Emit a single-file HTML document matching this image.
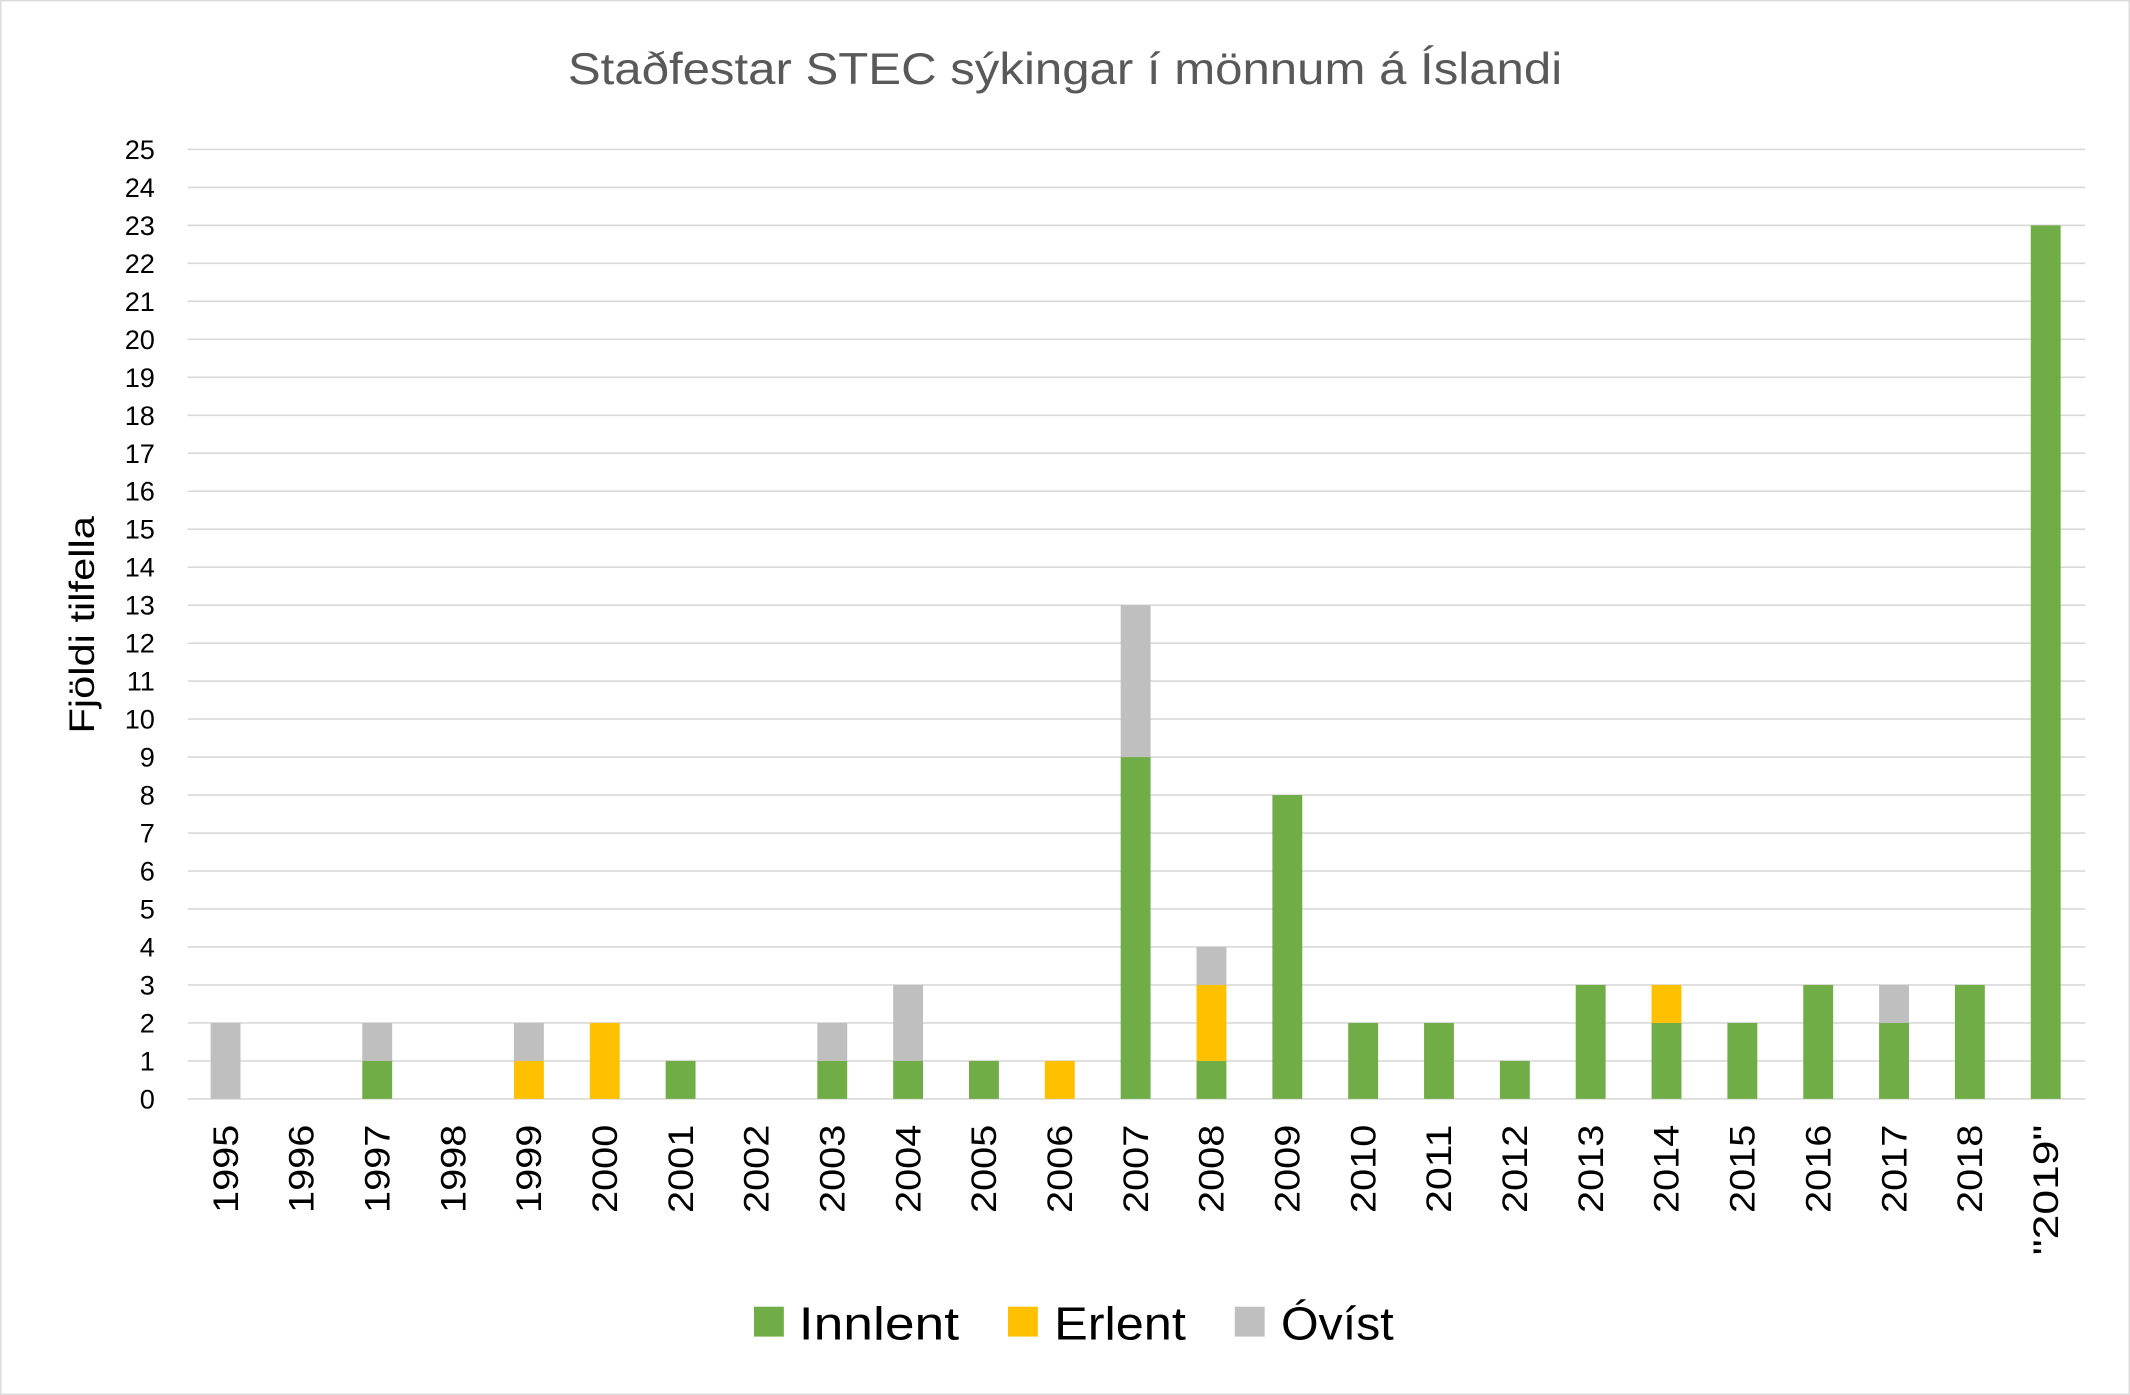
<!DOCTYPE html>
<html><head><meta charset="utf-8"><style>html,body{margin:0;padding:0;background:#fff}svg{display:block}</style></head>
<body>
<svg width="2130" height="1395" viewBox="0 0 1568 1027" xmlns="http://www.w3.org/2000/svg" font-family="Liberation Sans, DejaVu Sans, sans-serif">
<rect x="0.5" y="0.5" width="1567" height="1026" fill="#fff" stroke="#d9d9d9"/>
<text x="418" y="62" textLength="732" lengthAdjust="spacingAndGlyphs" font-size="33" fill="#595959">Staðfestar STEC sýkingar í mönnum á Íslandi</text>
<g id="grid" stroke="#d9d9d9" stroke-width="1.2"></g>
<g id="ylab" font-size="20" fill="#000" text-anchor="end"></g>
<text transform="translate(69,540) rotate(-90)" textLength="160" lengthAdjust="spacingAndGlyphs" font-size="26" fill="#000">Fjöldi tilfella</text>
<g id="bars"></g>
<g id="xlab" font-size="26" fill="#000"></g>
<g font-size="34" fill="#000">
<rect x="555" y="962" width="22" height="22" fill="#70AD47"/><text x="588" y="986" textLength="118" lengthAdjust="spacingAndGlyphs">Innlent</text>
<rect x="742" y="962" width="22" height="22" fill="#FFC000"/><text x="776" y="986" textLength="97" lengthAdjust="spacingAndGlyphs">Erlent</text>
<rect x="909" y="962" width="22" height="22" fill="#BFBFBF"/><text x="943" y="986" textLength="83" lengthAdjust="spacingAndGlyphs">Óvíst</text>
</g>
<script>
const ns="http://www.w3.org/2000/svg";
const y0=809,u=(809-110)/25;
const g=document.getElementById('grid'),yl=document.getElementById('ylab');
for(let i=0;i<=25;i++){const y=y0-i*u;
const l=document.createElementNS(ns,'line');l.setAttribute('x1',138);l.setAttribute('x2',1535);l.setAttribute('y1',y);l.setAttribute('y2',y);g.appendChild(l);
const t=document.createElementNS(ns,'text');t.setAttribute('x',114);t.setAttribute('y',y+7);t.textContent=i;yl.appendChild(t);}
const years=[];for(let y=1995;y<=2018;y++)years.push(String(y));years.push('"2019"');
const d={1995:[0,0,2],1997:[1,0,1],1999:[0,1,1],2000:[0,2,0],2001:[1,0,0],2003:[1,0,1],2004:[1,0,2],2005:[1,0,0],2006:[0,1,0],2007:[9,0,4],2008:[1,2,1],2009:[8,0,0],2010:[2,0,0],2011:[2,0,0],2012:[1,0,0],2013:[3,0,0],2014:[2,1,0],2015:[2,0,0],2016:[3,0,0],2017:[2,0,1],2018:[3,0,0],2019:[23,0,0]};
const cols=['#70AD47','#FFC000','#BFBFBF'];
const b=document.getElementById('bars'),xl=document.getElementById('xlab');
years.forEach((yr,i)=>{const cx=166+i*(1506-166)/24;const v=d[1995+i]||[0,0,0];let acc=0;
v.forEach((n,k)=>{if(!n)return;const r=document.createElementNS(ns,'rect');r.setAttribute('x',cx-11);r.setAttribute('width',22);r.setAttribute('y',y0-(acc+n)*u);r.setAttribute('height',n*u);r.setAttribute('fill',cols[k]);b.appendChild(r);acc+=n;});
const L=yr.length>4?96:65;
const t=document.createElementNS(ns,'text');t.setAttribute('transform',`translate(${cx+9},${828+L}) rotate(-90)`);t.setAttribute('textLength',L);t.setAttribute('lengthAdjust','spacingAndGlyphs');t.textContent=yr;xl.appendChild(t);});
</script>
</svg>
</body></html>
